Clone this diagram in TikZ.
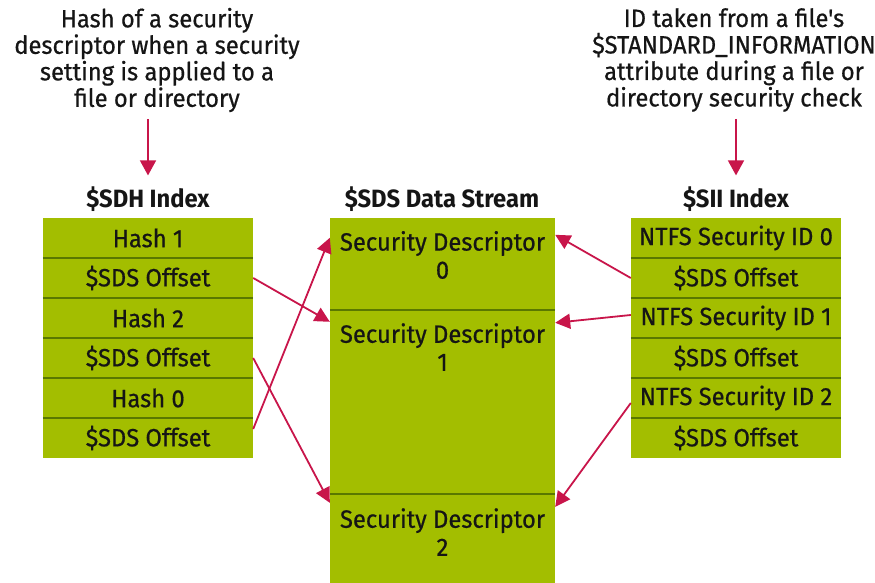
\documentclass[tikz,border=0pt]{standalone}
\usepackage{fontspec}
\setmainfont{Fira Sans}[FakeStretch=0.95]
\newfontfamily\heavyface{Fira Sans}[FakeStretch=0.95,FakeBold=0.6]
\usetikzlibrary{arrows.meta}
\definecolor{cellgreen}{HTML}{A3BE00}
\definecolor{rulegreen}{HTML}{5A7800}
\definecolor{linkred}{HTML}{C8154A}
\definecolor{inktext}{HTML}{151515}
\begin{document}
\begin{tikzpicture}[x=1pt,y=-1pt,
  cell/.style={fill=cellgreen,draw=none,minimum width=210pt,minimum height=40pt,
    inner sep=0pt,text=inktext,font=\heavyface\fontsize{25}{27}\selectfont},
  sect/.style={fill=cellgreen,draw=none,minimum width=225pt,inner sep=0pt},
  sectlabel/.style={align=center,text=inktext,inner sep=0pt,
    font=\heavyface\fontsize{25}{28}\selectfont},
  divider/.style={draw=rulegreen,line width=2.2pt},
  title/.style={font=\bfseries\fontsize{25}{27}\selectfont,text=inktext,inner sep=0pt},
  note/.style={align=center,text=inktext,inner sep=0pt,
    font=\heavyface\fontsize{25}{26.5}\selectfont},
  link/.style={draw=linkred,line width=1.8pt,-{Triangle[length=15pt,width=15pt]}},
  feed/.style={draw=linkred,line width=1.6pt,-{Triangle[length=15pt,width=16pt]}}]
\useasboundingbox (0,0) rectangle (875,583);

% explanatory notes above the two indexes
\node[note] (noteL) at (157,60) {Hash of a security\\descriptor when a security\\setting is applied to a\\file or directory};
\node[note] (noteR) at (734,60) {ID taken from a file's\\\$STANDARD\_INFORMATION\\attribute during a file or\\directory security check};

% column headings
\node[title] (tSDH) at (148,199) {\$SDH Index};
\node[title] (tSDS) at (442,199) {\$SDS Data Stream};
\node[title] (tSII) at (736,199) {\$SII Index};

% $SDH index cells
\node[cell] (l1) at (148,238) {Hash 1};
\node[cell] (l2) at (148,278) {\$SDS Offset};
\node[cell] (l3) at (148,318) {Hash 2};
\node[cell] (l4) at (148,358) {\$SDS Offset};
\node[cell] (l5) at (148,398) {Hash 0};
\node[cell] (l6) at (148,438) {\$SDS Offset};

% $SII index cells
\node[cell] (r1) at (736,238) {NTFS Security ID 0};
\node[cell] (r2) at (736,278) {\$SDS Offset};
\node[cell] (r3) at (736,318) {NTFS Security ID 1};
\node[cell] (r4) at (736,358) {\$SDS Offset};
\node[cell] (r5) at (736,398) {NTFS Security ID 2};
\node[cell] (r6) at (736,438) {\$SDS Offset};

% $SDS data stream sections
\node[sect,minimum height=92pt]  (m0) at (442.5,264) {};
\node[sect,minimum height=184pt] (m1) at (442.5,402) {};
\node[sect,minimum height=90pt]  (m2) at (442.5,539) {};
\node[sectlabel] (d0) at (442.5,255) {Security Descriptor\\0};
\node[sectlabel] (d1) at (442.5,347) {Security Descriptor\\1};
\node[sectlabel] (d2) at (442.5,532) {Security Descriptor\\2};

% row separators
\foreach \a/\b in {l1/l2,l2/l3,l3/l4,l4/l5,l5/l6,r1/r2,r2/r3,r3/r4,r4/r5,r5/r6,m0/m1,m1/m2}
  \draw[divider] (\a.south west) -- (\a.south east);

% notes point at their index
\draw[feed] (tSDH.north |- noteL.south) ++(0,7) -- ([yshift=11pt]tSDH.north);
\draw[feed] (tSII.north |- noteR.south) ++(0,7) -- ([yshift=11pt]tSII.north);

% offsets into the data stream
\draw[link] (l2.east) -- ([yshift=-12pt]m1.north west);
\draw[link] (l4.east) -- ([yshift=-9pt]m2.north west);
\draw[link] ([yshift=9pt]l6.east) -- ([yshift=-20pt]m0.north west);
\draw[link] (r2.west) -- ([yshift=-17pt]m0.north east);
\draw[link] ([yshift=3pt]r3.west) -- ([yshift=-13pt]m1.north east);
\draw[link] ([yshift=-5pt]r5.west) -- ([yshift=-13pt]m2.north east);
\end{tikzpicture}
\end{document}
